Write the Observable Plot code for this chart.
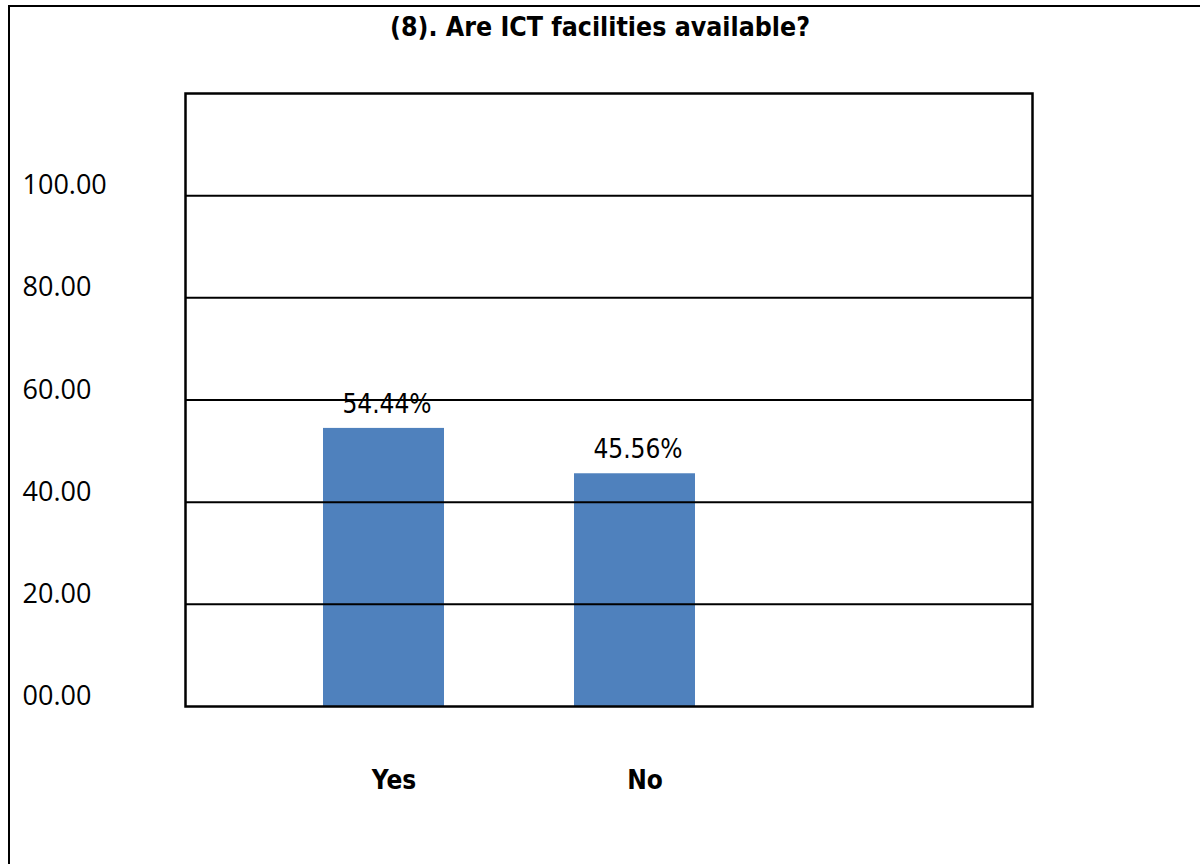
<!DOCTYPE html>
<html>
<head>
<meta charset="utf-8">
<script src="https://cdn.jsdelivr.net/npm/d3@7"></script>
<script src="https://cdn.jsdelivr.net/npm/@observablehq/plot@0.6"></script>
<style>
  html, body { margin: 0; padding: 0; background: #fff; overflow: hidden; }
  #page { position: relative; width: 1200px; height: 864px; overflow: hidden; }
  #outer { position: absolute; left: 8px; top: 5px; width: 1300px; height: 1000px; border: 2.5px solid #000; box-sizing: border-box; }
  #title { position: absolute; left: 0; top: 11px; width: 1200px; text-align: center;
    font-family: "DejaVu Sans Condensed", "Liberation Sans Narrow", "Arial Narrow", sans-serif;
    font-weight: bold; font-size: 26.5px; line-height: 32px; color: #000; }
  #chart { position: absolute; left: 0; top: 60px; }
</style>
</head>
<body>
<div id="page">
  <div id="outer"></div>
  <div id="title">(8). Are ICT facilities available?</div>
  <div id="chart"></div>
</div>
<script>
const categories = ["Yes", "No"];
const percentages = [54.44, 45.56];
const yTicks = [0, 20, 40, 60, 80, 100];
const gridValues = [20, 40, 60, 80, 100];

const data = categories.map((c, i) => ({category: c, value: percentages[i]}));
const fmtTick = d3.format("05.2f");
const narrow = "'DejaVu Sans Condensed', 'Liberation Sans Narrow', 'Arial Narrow', sans-serif";

const chart = Plot.plot({
  width: 1200,
  height: 804,
  marginLeft: 185,
  marginRight: 168,
  marginTop: 33,
  marginBottom: 158,
  style: {background: "transparent", color: "#000"},
  x: {domain: categories, paddingInner: 0.519, paddingOuter: 0.9434, align: 0.291, axis: null},
  y: {domain: [0, 120], axis: null},
  marks: [
    Plot.barY(data, {x: "category", y: "value", fill: "#4F81BD"}),
    Plot.ruleY(gridValues, {stroke: "#000", strokeWidth: 2}),
    Plot.frame({stroke: "#000", strokeWidth: 2.5}),
    Plot.text(yTicks, {
      y: d => d, text: d => fmtTick(d), frameAnchor: "left", textAnchor: "start",
      dx: -163, dy: -10, fontSize: 27, fontFamily: "'Open Sans', 'Liberation Sans', sans-serif", fill: "#000"
    }),
    Plot.text(data, {
      x: "category", y: "value", text: d => d.value.toFixed(2) + "%",
      dy: -24, dx: 3, fontSize: 26, fontFamily: narrow, fill: "#000"
    }),
    Plot.text(data, {
      x: "category", text: "category", frameAnchor: "bottom", dy: 82, dx: 10,
      fontSize: 26, fontWeight: "bold", fontFamily: narrow, fill: "#000"
    })
  ]
});
document.getElementById("chart").appendChild(chart);
</script>
</body>
</html>
